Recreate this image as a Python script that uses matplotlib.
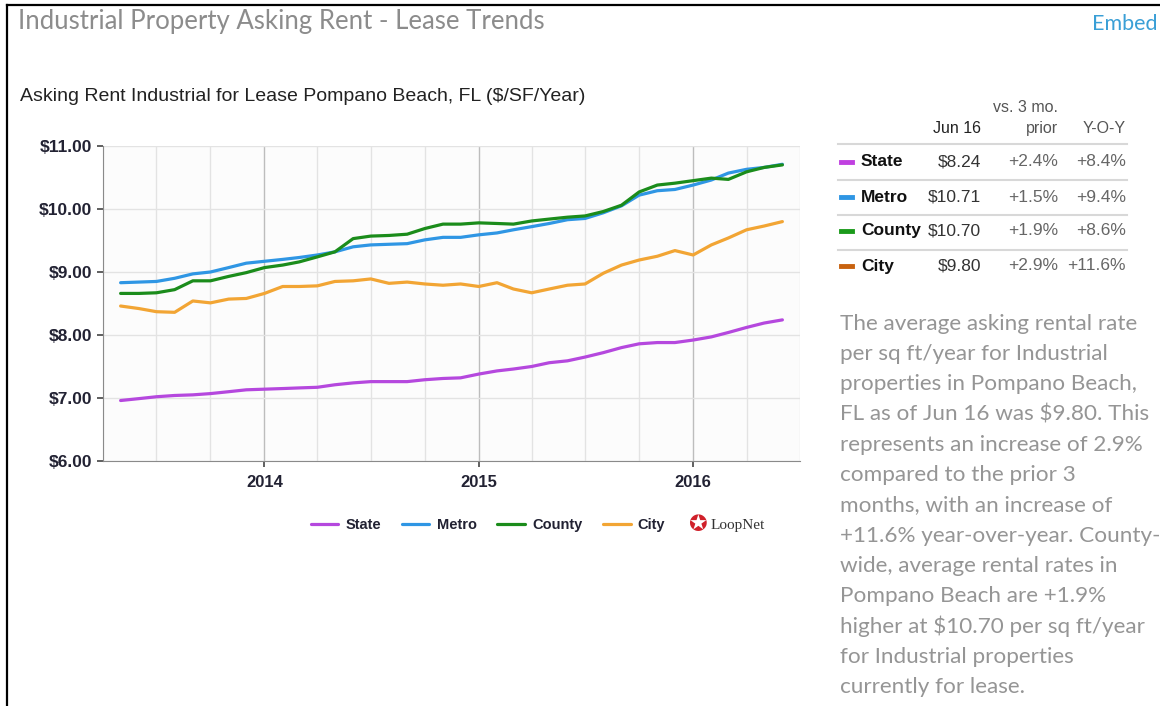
import matplotlib
matplotlib.use("Agg")
import matplotlib.pyplot as plt
import matplotlib.dates as mdates
from matplotlib.lines import Line2D
import pandas as pd

# monthly asking rent, May 2013 .. Jun 2016 ($/SF/Year)
months = pd.date_range("2013-05-01", periods=38, freq="MS")

state = [6.96, 6.99, 7.02, 7.04, 7.05, 7.07, 7.10, 7.13, 7.14, 7.15,
         7.16, 7.17, 7.21, 7.24, 7.26, 7.26, 7.26, 7.29, 7.31, 7.32,
         7.38, 7.43, 7.46, 7.50, 7.56, 7.59, 7.65, 7.72, 7.80, 7.86,
         7.88, 7.88, 7.92, 7.97, 8.04, 8.12, 8.19, 8.24]
metro = [8.83, 8.84, 8.85, 8.90, 8.97, 9.00, 9.07, 9.14, 9.17, 9.20,
         9.23, 9.27, 9.32, 9.40, 9.43, 9.44, 9.45, 9.51, 9.55, 9.55,
         9.59, 9.62, 9.67, 9.72, 9.77, 9.83, 9.85, 9.94, 10.05, 10.22,
         10.29, 10.31, 10.38, 10.46, 10.57, 10.63, 10.66, 10.71]
county = [8.66, 8.66, 8.67, 8.72, 8.86, 8.86, 8.93, 8.99, 9.07, 9.11,
          9.16, 9.24, 9.32, 9.53, 9.57, 9.58, 9.60, 9.69, 9.76, 9.76,
          9.78, 9.77, 9.76, 9.81, 9.84, 9.87, 9.89, 9.96, 10.06, 10.27,
          10.38, 10.41, 10.45, 10.49, 10.47, 10.59, 10.66, 10.70]
city = [8.46, 8.42, 8.37, 8.36, 8.54, 8.51, 8.57, 8.58, 8.66, 8.77,
        8.77, 8.78, 8.85, 8.86, 8.89, 8.82, 8.84, 8.81, 8.79, 8.81,
        8.77, 8.83, 8.73, 8.67, 8.73, 8.79, 8.81, 8.98, 9.11, 9.19,
        9.25, 9.34, 9.27, 9.43, 9.54, 9.67, 9.73, 9.80]

series_names = ["State", "Metro", "County", "City"]
series_colors = ["#b548de", "#2f96e4", "#1b8c1b", "#f2a534"]
swatch_colors = ["#c040e0", "#2f96e4", "#1b9a1b", "#c8620f"]

# summary table
col_current = ["$8.24", "$10.71", "$10.70", "$9.80"]
col_3mo = ["+2.4%", "+1.5%", "+1.9%", "+2.9%"]
col_yoy = ["+8.4%", "+9.4%", "+8.6%", "+11.6%"]

desc_lines = [
    "The average asking rental rate",
    "per sq ft/year for Industrial",
    "properties in Pompano Beach,",
    "FL as of Jun 16 was $9.80. This",
    "represents an increase of 2.9%",
    "compared to the prior 3",
    "months, with an increase of",
    "+11.6% year-over-year. County-",
    "wide, average rental rates in",
    "Pompano Beach are +1.9%",
    "higher at $10.70 per sq ft/year",
    "for Industrial properties",
    "currently for lease.",
]

W, H = 1160, 706


def fx(x):
    return x / W


def fy(y):
    return 1 - y / H


fig = plt.figure(figsize=(W / 100, H / 100), dpi=100)
fig.patch.set_facecolor("white")

# frame lines (left + top)
fig.add_artist(Line2D([fx(6.5), fx(6.5)], [0, fy(5)], color="black", lw=1.6))
fig.add_artist(Line2D([fx(6.5), 1], [fy(5), fy(5)], color="black", lw=1.6))

light = ["Lato", "DejaVu Sans"]
arial = ["Liberation Sans", "DejaVu Sans"]

fig.text(fx(18), fy(29), "Industrial Property Asking Rent - Lease Trends",
         family=light, fontsize=18.5, color="#8c8c8c", va="baseline")
fig.text(fx(1157), fy(30), "Embed", family=light, fontsize=15.5,
         color="#3a9fd6", ha="right", va="baseline")
fig.text(fx(20), fy(101), "Asking Rent Industrial for Lease Pompano Beach, FL ($/SF/Year)",
         family=arial, fontsize=14, color="#222222", va="baseline")

# main chart
ax = fig.add_axes([fx(103), fy(461), fx(800) - fx(103), fy(146) - fy(461)])
ax.set_facecolor("#fcfcfc")
for vals, name, col in zip([state, metro, county, city], series_names, series_colors):
    ax.plot(months, vals, color=col, lw=2.3, label=name, solid_capstyle="round")

ax.set_ylim(6, 11)
ax.set_xlim(pd.Timestamp("2013-04-01"), pd.Timestamp("2016-07-01"))
ax.set_yticks([6, 7, 8, 9, 10, 11])
ax.set_yticklabels(["$%.2f" % v for v in [6, 7, 8, 9, 10, 11]])
ax.xaxis.set_major_locator(mdates.YearLocator())
ax.xaxis.set_major_formatter(mdates.DateFormatter("%Y"))
ax.xaxis.set_minor_locator(mdates.MonthLocator(bymonth=[1, 4, 7, 10]))

ax.grid(True, which="minor", axis="x", color="#e3e3e3", lw=1)
ax.grid(True, which="major", axis="x", color="#bdbdbd", lw=1)
ax.grid(True, which="major", axis="y", color="#e3e3e3", lw=1)
ax.set_axisbelow(True)

for s in ["top", "right"]:
    ax.spines[s].set_visible(False)
ax.spines["left"].set_color("#8a8a8a")
ax.spines["bottom"].set_color("#8a8a8a")
ax.tick_params(axis="y", length=4, width=1.2, color="#444444", pad=4)
ax.tick_params(axis="x", which="major", length=4, width=1.2, color="#444444", pad=6)
ax.tick_params(axis="x", which="minor", length=0)
for lbl in ax.get_yticklabels():
    lbl.set_family(arial)
    lbl.set_fontweight("bold")
    lbl.set_fontsize(12.5)
    lbl.set_color("#222233")
for lbl in ax.get_xticklabels():
    lbl.set_family(arial)
    lbl.set_fontweight("bold")
    lbl.set_fontsize(12)
    lbl.set_color("#222233")

leg = ax.legend(loc="center", bbox_to_anchor=(fx(488), fy(525)),
                bbox_transform=fig.transFigure, ncol=4, frameon=False,
                handlelength=1.9, handletextpad=0.5, columnspacing=1.4,
                prop={"family": arial, "weight": "bold", "size": 10.5})
for t in leg.get_texts():
    t.set_color("#222233")

fig.text(fx(697), fy(525), "\u272a", color="#d0202a", fontsize=16,
         ha="center", va="center", family="DejaVu Sans")
fig.text(fx(711), fy(525), "LoopNet", family=["Liberation Serif", "DejaVu Serif"],
         fontsize=11, color="#333333", va="center")

# summary table
x_lab, x_cur, x_3mo, x_yoy = 861, 981, 1058, 1126
fig.text(fx(x_3mo), fy(112), "vs. 3 mo.", family=arial, fontsize=11.5,
         color="#555555", ha="right", va="baseline")
fig.text(fx(x_cur), fy(133), "Jun 16", family=arial, fontsize=11.5,
         color="#222222", ha="right", va="baseline")
fig.text(fx(x_3mo), fy(133), "prior", family=arial, fontsize=11.5,
         color="#555555", ha="right", va="baseline")
fig.text(fx(x_yoy), fy(133), "Y-O-Y", family=arial, fontsize=11.5,
         color="#555555", ha="right", va="baseline")

row_y = [162, 197, 231, 266]
sep_y = [144, 180, 215, 250]
for y in sep_y:
    fig.add_artist(Line2D([fx(838), fx(1127)], [fy(y), fy(y)], color="#d8d8d8", lw=1.5))
for i, y in enumerate(row_y):
    fig.add_artist(Line2D([fx(841), fx(852)], [fy(y), fy(y)], color=swatch_colors[i], lw=3.5))
    fig.text(fx(x_lab), fy(y), series_names[i], family=arial, fontsize=12.5,
             weight="bold", color="#111111", va="center")
    fig.text(fx(x_cur), fy(y), col_current[i], family=arial, fontsize=12.5,
             color="#333333", ha="right", va="center")
    fig.text(fx(x_3mo), fy(y), col_3mo[i], family=arial, fontsize=12.5,
             color="#666666", ha="right", va="center")
    fig.text(fx(x_yoy), fy(y), col_yoy[i], family=arial, fontsize=12.5,
             color="#666666", ha="right", va="center")

# description
for i, line in enumerate(desc_lines):
    fig.text(fx(840), fy(324 + i * 30.25), line, family=light, fontsize=16.2,
             color="#959595", va="center")

fig.savefig("out.png", dpi=100)
